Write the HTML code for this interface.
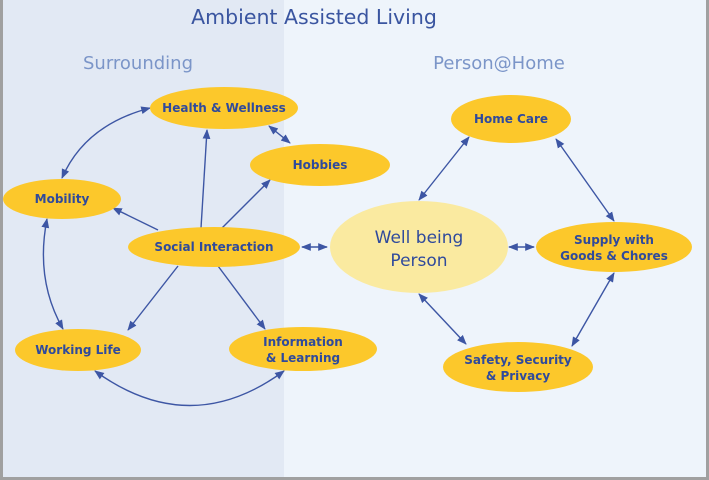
<!DOCTYPE html>
<html><head><meta charset="utf-8"><style>
html,body{margin:0;padding:0;width:709px;height:480px;overflow:hidden;background:#a0a0a0}
svg{display:block}
text{font-family:"DejaVu Sans","Liberation Sans",sans-serif}
.lbl{font-weight:bold;font-size:12px;fill:#2f4a9c;text-anchor:middle}
.ln{stroke:#3d56a4;stroke-width:1.4;fill:none}
</style></head><body>
<svg width="709" height="480" viewBox="0 0 709 480">
<defs>
<marker id="ah" viewBox="0 0 10 10" refX="9" refY="5" markerWidth="7" markerHeight="7" orient="auto-start-reverse"><path d="M0,1 L10,5 L0,9 z" fill="#3d56a4"/></marker>
</defs>
<rect x="3" y="0" width="703" height="477" fill="#eef4fb"/>
<rect x="3" y="0" width="281" height="477" fill="#e2e9f4"/>
<text x="314" y="24" font-size="20.5" fill="#3a55a0" text-anchor="middle">Ambient Assisted Living</text>
<text x="138" y="69" font-size="18" fill="#7b95c8" text-anchor="middle">Surrounding</text>
<text x="499" y="69" font-size="18" fill="#7b95c8" text-anchor="middle">Person@Home</text>

<g>
<path class="ln" d="M150,108 Q85,125 62,178" marker-start="url(#ah)" marker-end="url(#ah)"/>
<path class="ln" d="M269,126 L290,143" marker-start="url(#ah)" marker-end="url(#ah)"/>
<path class="ln" d="M201,228 L207,130" marker-end="url(#ah)"/>
<path class="ln" d="M222,228 L270,180" marker-end="url(#ah)"/>
<path class="ln" d="M158,230 L113,208" marker-end="url(#ah)"/>
<path class="ln" d="M47,219 Q35,280 63,329" marker-start="url(#ah)" marker-end="url(#ah)"/>
<path class="ln" d="M178,266 L128,330" marker-end="url(#ah)"/>
<path class="ln" d="M218,266 L265,329" marker-end="url(#ah)"/>
<path class="ln" d="M95,371 Q190,440 284,371" marker-start="url(#ah)" marker-end="url(#ah)"/>
<path class="ln" d="M302,247 L327,247" marker-start="url(#ah)" marker-end="url(#ah)"/>
<path class="ln" d="M419,200 L469,137" marker-start="url(#ah)" marker-end="url(#ah)"/>
<path class="ln" d="M509,247 L534,247" marker-start="url(#ah)" marker-end="url(#ah)"/>
<path class="ln" d="M419,294 L466,344" marker-start="url(#ah)" marker-end="url(#ah)"/>
<path class="ln" d="M556,139 L614,221" marker-start="url(#ah)" marker-end="url(#ah)"/>
<path class="ln" d="M614,273 L572,346" marker-start="url(#ah)" marker-end="url(#ah)"/>
</g>

<g><ellipse cx="224" cy="108" rx="74" ry="21" fill="#fcc82b"/><text class="lbl" x="224" y="112">Health &amp; Wellness</text></g>
<g><ellipse cx="320" cy="165" rx="70" ry="21" fill="#fcc82b"/><text class="lbl" x="320" y="169">Hobbies</text></g>
<g><ellipse cx="62" cy="199" rx="59" ry="20" fill="#fcc82b"/><text class="lbl" x="62" y="203">Mobility</text></g>
<g><ellipse cx="214" cy="247" rx="86" ry="20" fill="#fcc82b"/><text class="lbl" x="214" y="251">Social Interaction</text></g>
<g><ellipse cx="78" cy="350" rx="63" ry="21" fill="#fcc82b"/><text class="lbl" x="78" y="354">Working Life</text></g>
<g><ellipse cx="303" cy="349" rx="74" ry="22" fill="#fcc82b"/><text class="lbl" x="303" y="346">Information</text><text class="lbl" x="303" y="362">&amp; Learning</text></g>
<g><ellipse cx="419" cy="247" rx="89" ry="46" fill="#faeaa0"/><text x="419" y="243" font-size="17" fill="#2f4a9c" text-anchor="middle">Well being</text><text x="419" y="266" font-size="17" fill="#2f4a9c" text-anchor="middle">Person</text></g>
<g><ellipse cx="511" cy="119" rx="60" ry="24" fill="#fcc82b"/><text class="lbl" x="511" y="123">Home Care</text></g>
<g><ellipse cx="614" cy="247" rx="78" ry="25" fill="#fcc82b"/><text class="lbl" x="614" y="244">Supply with</text><text class="lbl" x="614" y="260">Goods &amp; Chores</text></g>
<g><ellipse cx="518" cy="367" rx="75" ry="25" fill="#fcc82b"/><text class="lbl" x="518" y="364">Safety, Security</text><text class="lbl" x="518" y="380">&amp; Privacy</text></g>
</svg>
</body></html>
